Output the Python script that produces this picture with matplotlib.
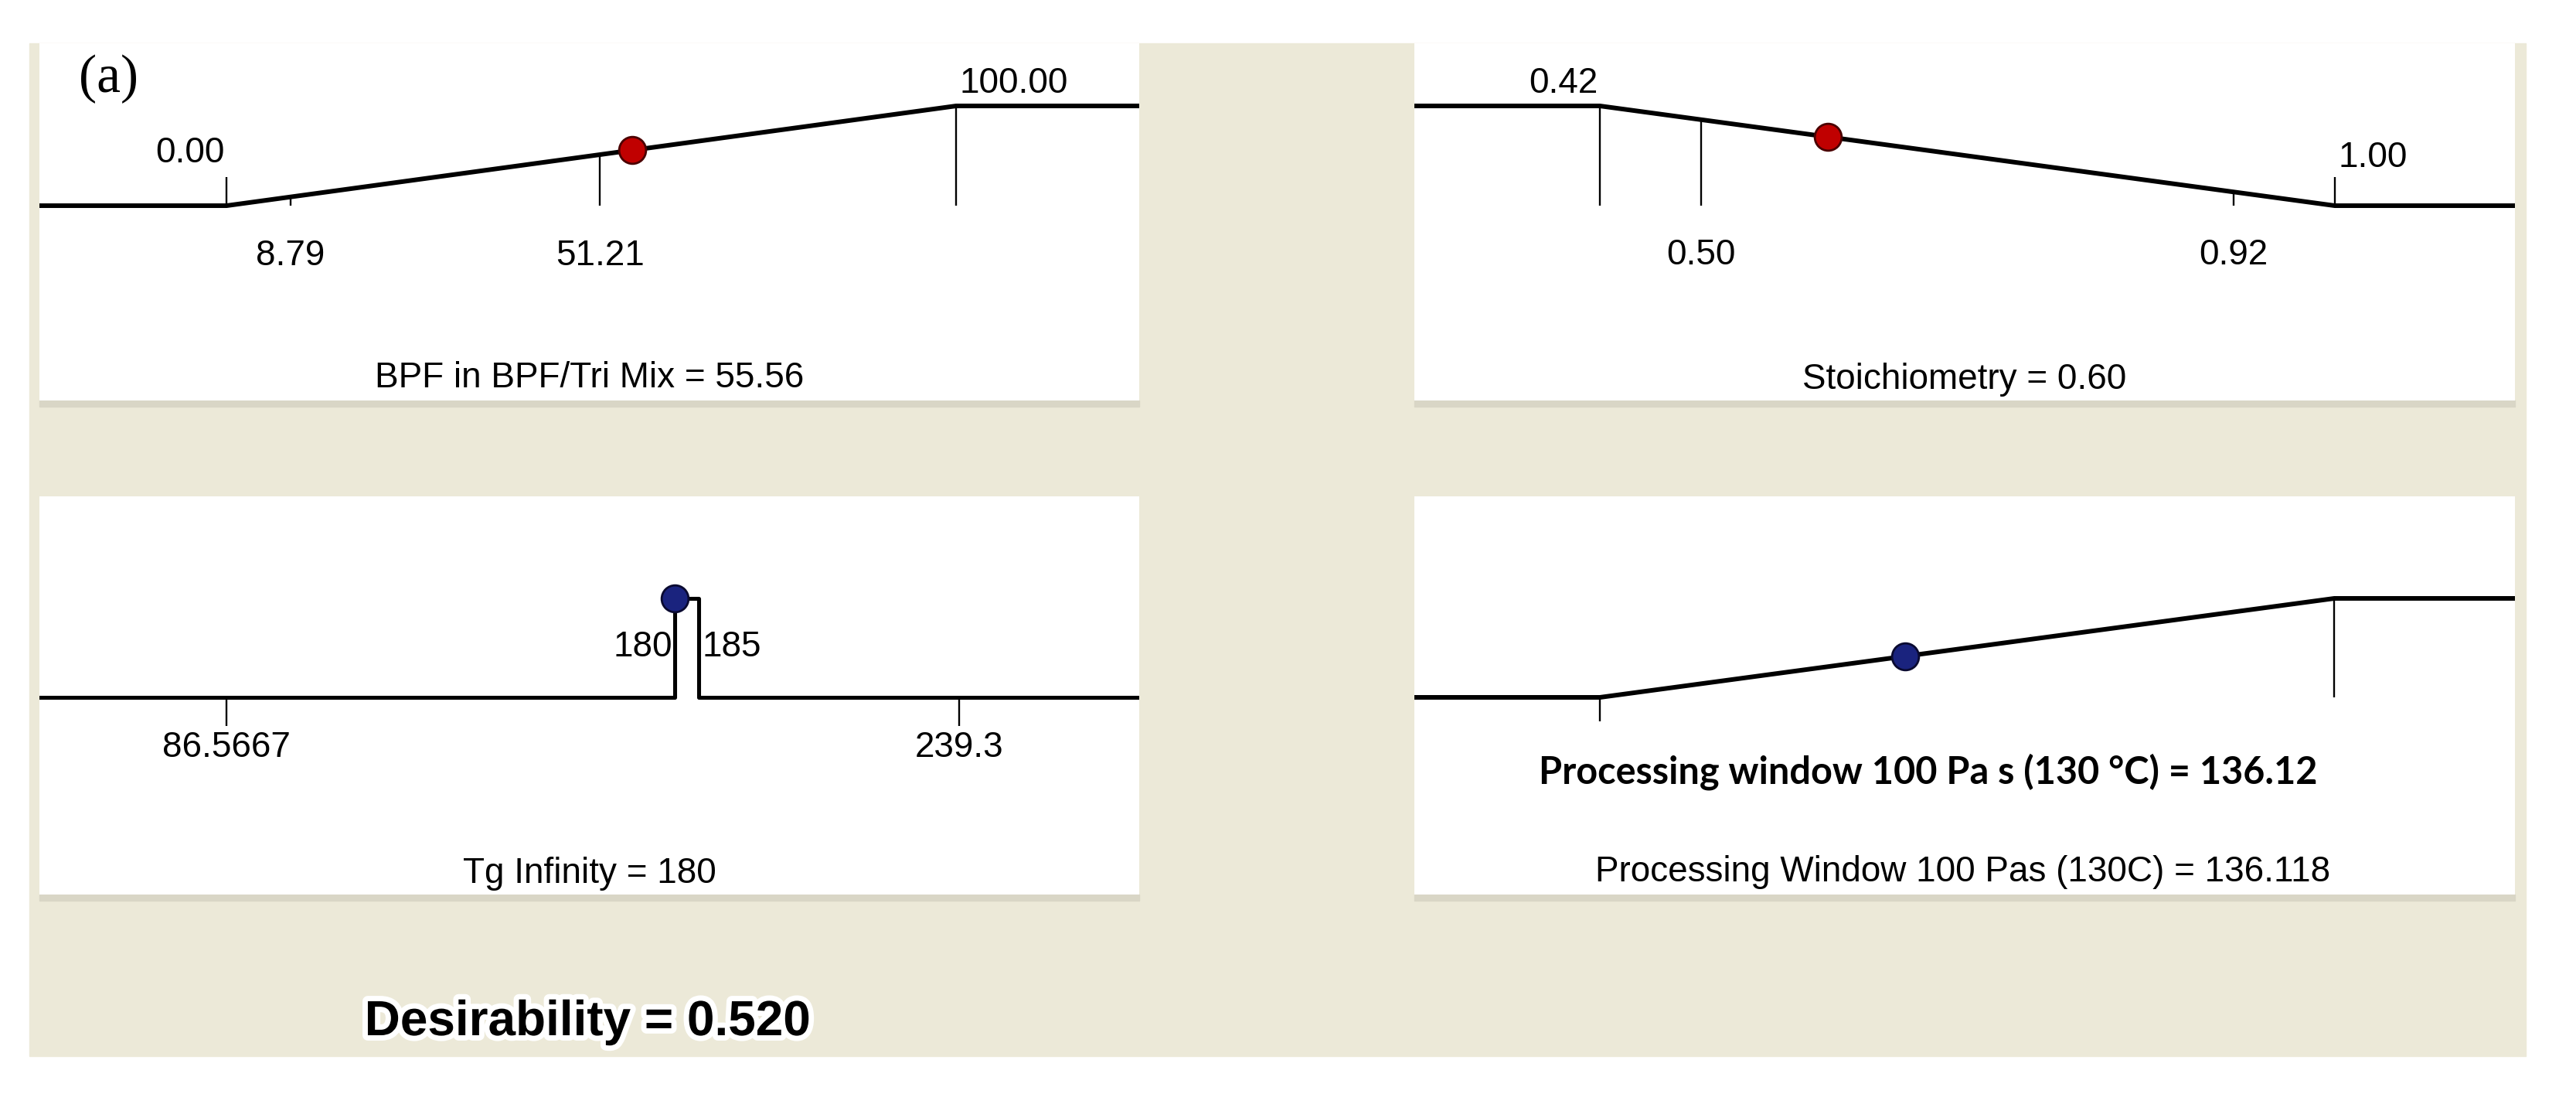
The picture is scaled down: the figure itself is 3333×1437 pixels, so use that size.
import matplotlib
matplotlib.use("Agg")
import matplotlib.pyplot as plt
import matplotlib.patheffects as pe
from matplotlib.patches import Rectangle

plt.rcParams['font.family'] = ['Liberation Sans', 'DejaVu Sans']

# optimum factor / response values (shown as dots)
bpf_value = 55.56
stoich_value = 0.60
tg_value = 180
window_value = 136.118
desirability = 0.520

# goal limits of each desirability ramp
bpf_limits = [0.00, 100.00]        # maximize
stoich_limits = [0.42, 1.00]       # minimize
tg_limits = [180, 185]             # in range
window_limits = [100.0, 187.0]     # maximize (limits not printed)

# design range ticks
bpf_range = [8.79, 51.21]
stoich_range = [0.50, 0.92]
tg_range = [86.5667, 239.3]

# labels
bpf_title = "BPF in BPF/Tri Mix = 55.56"
stoich_title = "Stoichiometry = 0.60"
tg_title = "Tg Infinity = 180"
window_title1 = "Processing window 100 Pa s (130 \u00b0C) = 136.12"
window_title2 = "Processing Window 100 Pas (130C) = 136.118"

BEIGE = '#ece9d8'
W, H = 3333, 1437
LW = 4.3
TLW = 1.7
FS = 33


def d_max(v, lim):
    return (v - lim[0]) / (lim[1] - lim[0])


def d_min(v, lim):
    return (lim[1] - v) / (lim[1] - lim[0])


fig = plt.figure(figsize=(W / 100, H / 100), dpi=100)

# background layer in pixel units
bg = fig.add_axes([0, 0, 1, 1], zorder=0)
bg.set_xlim(0, W)
bg.set_ylim(H, 0)
bg.axis('off')
bg.add_patch(Rectangle((38, 56), 3230, 1310, color=BEIGE))


def panel(px_left, px_top, px_w, px_h, xlim, ylim):
    ax = fig.add_axes([px_left / W, 1 - (px_top + px_h) / H, px_w / W, px_h / H], zorder=1)
    ax.set_xlim(xlim)
    ax.set_ylim(ylim)
    ax.set_facecolor('white')
    ax.set_xticks([])
    ax.set_yticks([])
    for s in ax.spines.values():
        s.set_visible(False)
    # soft shadow under the panel
    bg.add_patch(Rectangle((px_left, px_top + px_h), px_w, 8, color='#d9d6c6'))
    return ax


def lbl(ax, text, x, y, dx, dy, ha, va='center'):
    ax.annotate(text, (x, y), xytext=(dx, dy), textcoords='offset points',
                ha=ha, va=va, fontsize=FS)


def dot(ax, x, y, face, edge):
    ax.plot(x, y, 'o', ms=25, mfc=face, mec=edge, mew=2, zorder=5)


# ---- top left: BPF ----
ax = panel(51, 56, 1423, 462, (-25.64, 125.1), (-1.953, 1.628))
lo, hi = bpf_limits
x0, x1 = ax.get_xlim()
ax.plot([x0, lo, hi, x1], [0, 0, 1, 1], color='black', lw=LW)
ax.vlines(lo, 0, 0.29, color='black', lw=TLW)
ax.vlines(hi, 0, 1, color='black', lw=TLW)
for r in bpf_range:
    ax.vlines(r, 0, d_max(r, bpf_limits), color='black', lw=TLW)
    lbl(ax, "{:.2f}".format(r), r, 0, 0, -47, 'center')
lbl(ax, "{:.2f}".format(lo), lo, 0, -2, 49, 'right')
lbl(ax, "{:.2f}".format(hi), hi, 1, 3, 21, 'left')
dot(ax, bpf_value, d_max(bpf_value, bpf_limits), '#c00000', '#4a0000')
ax.text(0.5, 0.063, bpf_title, transform=ax.transAxes, ha='center', va='center', fontsize=FS)

# ---- top right: stoichiometry ----
ax = panel(1830, 56, 1424, 462, (0.2736, 1.1421), (-1.953, 1.628))
lo, hi = stoich_limits
x0, x1 = ax.get_xlim()
ax.plot([x0, lo, hi, x1], [1, 1, 0, 0], color='black', lw=LW)
ax.vlines(lo, 0, 1, color='black', lw=TLW)
ax.vlines(hi, 0, 0.29, color='black', lw=TLW)
for r in stoich_range:
    ax.vlines(r, 0, d_min(r, stoich_limits), color='black', lw=TLW)
    lbl(ax, "{:.2f}".format(r), r, 0, 0, -46, 'center')
lbl(ax, "{:.2f}".format(lo), lo, 1, -2, 21, 'right')
lbl(ax, "{:.2f}".format(hi), hi, 0, 3, 45, 'left')
dot(ax, stoich_value, d_min(stoich_value, stoich_limits), '#c00000', '#4a0000')
ax.text(0.5, 0.058, stoich_title, transform=ax.transAxes, ha='center', va='center', fontsize=FS)

# ---- bottom left: Tg infinity ----
ax = panel(51, 642, 1423, 515, (47.58, 276.84), (-1.992, 2.031))
lo, hi = tg_limits
x0, x1 = ax.get_xlim()
ax.plot([x0, lo, lo, hi, hi, x1], [0, 0, 1, 1, 0, 0], color='black', lw=LW * 0.85)
for r in tg_range:
    ax.vlines(r, -0.29, 0, color='black', lw=TLW)
    lbl(ax, "{:g}".format(r), r, 0, 0, -47, 'center')
lbl(ax, "{:d}".format(lo), lo, 0, -2, 47, 'right')
lbl(ax, "{:d}".format(hi), hi, 0, 3, 47, 'left')
dot(ax, tg_value, 1, '#1a237e', '#0a0a30')
ax.text(0.5, 0.052, tg_title, transform=ax.transAxes, ha='center', va='center', fontsize=FS)

# ---- bottom right: processing window ----
ax = panel(1830, 642, 1424, 515, (78.02, 208.4), (-1.992, 2.031))
lo, hi = window_limits
x0, x1 = ax.get_xlim()
ax.plot([x0, lo, hi, x1], [0, 0, 1, 1], color='black', lw=LW)
ax.vlines(lo, -0.24, 0, color='black', lw=TLW)
ax.vlines(hi, 0, 1, color='black', lw=TLW)
dot(ax, window_value, d_max(window_value, window_limits), '#1a237e', '#0a0a30')
ax.text(0.467, 0.309, window_title1, transform=ax.transAxes, ha='center', va='center',
        fontsize=35, family=['Lato', 'DejaVu Sans'], fontweight='bold')
ax.text(0.498, 0.056, window_title2, transform=ax.transAxes, ha='center', va='center', fontsize=FS)

# panel letter and overall desirability
fig.text(102 / W, 1 - 102 / H, "(a)", ha='left', va='center', fontsize=50,
         family=['Liberation Serif', 'DejaVu Serif'], zorder=3)
fig.text(760 / W, 1 - 1322 / H, "Desirability = {:.3f}".format(desirability),
         ha='center', va='center', fontsize=46, fontweight='bold', zorder=3,
         path_effects=[pe.withStroke(linewidth=10, foreground='white')])

fig.savefig("out.png", dpi=100, facecolor='white')
